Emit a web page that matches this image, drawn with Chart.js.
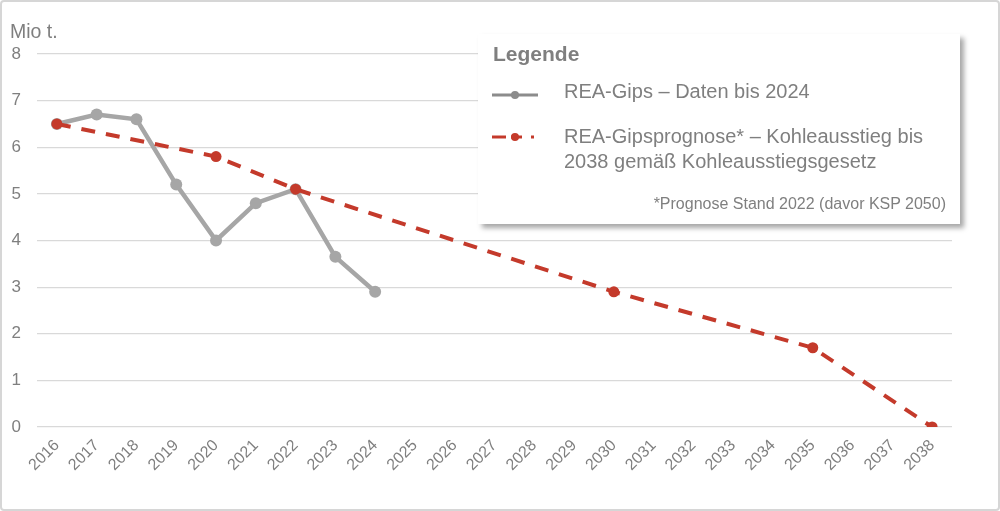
<!DOCTYPE html>
<html>
<head>
<meta charset="utf-8">
<script src="https://cdn.jsdelivr.net/npm/chart.js@4"></script>
<style>
  html, body { margin: 0; padding: 0; background: #fff; }
  #wrap { position: relative; width: 1000px; height: 511px; box-sizing: border-box; border: 2px solid #d6d6d6; border-radius: 4px; font-family: "Liberation Sans", Arial, sans-serif; }
  #unit { position: absolute; left: 8px; top: 18px; font-size: 19.5px; line-height: 23px; color: #7f7f7f; }
  #legend { position: absolute; left: 476px; top: 32px; width: 482px; height: 190px; background: #fff; box-shadow: 4px 4px 5px rgba(0,0,0,0.35); color: #7f7f7f; }
  #legend .title { position: absolute; left: 15px; top: 8px; font-size: 21px; line-height: 24px; font-weight: bold; }
  #legend .item { position: absolute; left: 86px; font-size: 20px; line-height: 25px; }
  #legend svg { position: absolute; left: 12px; }
  #legend .note { position: absolute; right: 14px; top: 160px; font-size: 16px; line-height: 19px; }
</style>
</head>
<body>
<div id="wrap">
  <canvas id="myChart" width="996" height="507"></canvas>
  <div id="unit">Mio t.</div>
  <div id="legend">
    <div class="title">Legende</div>
    <svg width="50" height="12" style="top:55px"><line x1="2" y1="6" x2="48" y2="6" stroke="#8c8c8c" stroke-width="3"/><circle cx="25" cy="6" r="4" fill="#8c8c8c"/></svg>
    <div class="item" style="top:45px">REA-Gips – Daten bis 2024</div>
    <svg width="50" height="12" style="top:97px"><line x1="2" y1="6" x2="16" y2="6" stroke="#c43a2b" stroke-width="3"/><circle cx="25" cy="6" r="4" fill="#c43a2b"/><line x1="21" y1="6" x2="32" y2="6" stroke="#c43a2b" stroke-width="3"/><rect x="41" y="4.5" width="3" height="3" fill="#c43a2b"/></svg>
    <div class="item" style="top:90px">REA-Gipsprognose* – Kohleausstieg bis<br>2038 gemäß Kohleausstiegsgesetz</div>
    <div class="note">*Prognose Stand 2022 (davor KSP 2050)</div>
  </div>
</div>
<script>
const years = ['2016','2017','2018','2019','2020','2021','2022','2023','2024','2025','2026','2027',
  '2028','2029','2030','2031','2032','2033','2034','2035','2036','2037','2038'];
const reaGips = [6.5, 6.7, 6.6, 5.2, 4.0, 4.8, 5.1, 3.65, 2.9];
const prognose = [6.5, null, null, null, 5.8, null, 5.1, null, null, null, null, null,
  null, null, 2.9, null, null, null, null, 1.7, null, null, 0];
const yTicks = [0, 1, 2, 3, 4, 5, 6, 7, 8];

const grey = '#a6a6a6';
const red = '#c43a2b';

const config = {
  type: 'line',
  data: {
    labels: years,
    datasets: [{
      label: 'REA-Gipsprognose',
      data: prognose,
      spanGaps: true,
      borderColor: red,
      backgroundColor: red,
      borderWidth: 4,
      borderDash: [14, 11],
      pointRadius: 5.5,
      pointBorderWidth: 0,
      tension: 0,
      order: 1
    }, {
      label: 'REA-Gips',
      data: reaGips,
      borderColor: grey,
      backgroundColor: grey,
      borderWidth: 4.5,
      pointRadius: 6,
      pointBorderWidth: 0,
      tension: 0,
      order: 2
    }]
  },
  options: {
    responsive: false,
    animation: false,
    layout: { padding: { left: 0, top: 52, right: 46, bottom: 0 } },
    plugins: { legend: { display: false }, tooltip: { enabled: false } },
    scales: {
      x: {
        offset: true,
        grid: { display: false },
        border: { display: false },
        ticks: {
          color: '#7f7f7f',
          font: { family: 'Liberation Sans', size: 16 },
          maxRotation: 45, minRotation: 45,
          autoSkip: false,
          padding: 1
        },
        afterFit: s => { s.height = 82; }
      },
      y: {
        min: 0, max: 8,
        afterBuildTicks: s => { s.ticks = yTicks.map(v => ({ value: v })); },
        grid: { color: '#d9d9d9', lineWidth: 1.2, drawTicks: false },
        border: { display: false },
        ticks: {
          color: '#7f7f7f',
          font: { family: 'Liberation Sans', size: 17 },
          padding: 16
        },
        afterFit: s => { s.width = 35; }
      }
    }
  }
};

const myChart = new Chart(document.getElementById('myChart'), config);
</script>
</body>
</html>
